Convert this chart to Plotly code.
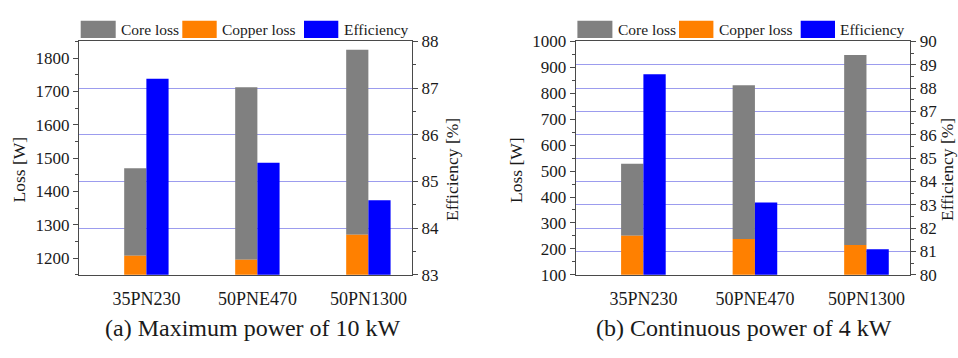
import plotly.graph_objects as go

# ---------------- data ----------------
materials = ["35PN230", "50PNE470", "50PN1300"]

# (a) Maximum power of 10 kW
copper_a = [1207, 1195, 1270]
core_a = [263, 518, 555]
eff_a = [87.2, 85.4, 84.6]

# (b) Continuous power of 4 kW
copper_b = [251, 238, 215]
core_b = [277, 593, 733]
eff_b = [88.6, 83.1, 81.1]

legend_names = ["Core loss", "Copper loss", "Efficiency"]
captions = ["(a) Maximum power of 10 kW", "(b) Continuous power of 4 kW"]

# ---------------- styles ----------------
W, H = 958, 358
FONT = "Liberation Serif"
C_CORE = "#808080"
C_CU = "#ff8000"
C_EFF = "#0000ff"
AXC = "#4a4a4a"
GRIDC = "#9c9cee"


def px(x):
    return x / W


def py(y):
    return 1 - y / H


fig = go.Figure()

panels = [
    dict(cu=copper_a, core=core_a, eff=eff_a, xa="x", ya="y", ya2="y2"),
    dict(cu=copper_b, core=core_b, eff=eff_b, xa="x2", ya="y3", ya2="y4"),
]

for p in panels:
    fig.add_trace(go.Bar(x=materials, y=p["core"], base=p["cu"], name=legend_names[0],
                         marker=dict(color=C_CORE, line=dict(width=0)),
                         offset=-0.2, width=0.2, xaxis=p["xa"], yaxis=p["ya"], showlegend=False))
    fig.add_trace(go.Bar(x=materials, y=p["cu"], name=legend_names[1],
                         marker=dict(color=C_CU, line=dict(width=0)),
                         offset=-0.2, width=0.2, xaxis=p["xa"], yaxis=p["ya"], showlegend=False))
    fig.add_trace(go.Bar(x=materials, y=p["eff"], name=legend_names[2],
                         marker=dict(color=C_EFF, line=dict(width=0)),
                         offset=0.0, width=0.2, xaxis=p["xa"], yaxis=p["ya2"], showlegend=False))

ydom = [py(280.7), py(34.3)]
xdom1 = [px(79), px(412)]
xdom2 = [px(575.7), px(910.3)]

tickfont = dict(family=FONT, size=17, color="#1a1a1a")
xfont = dict(family=FONT, size=18, color="#1a1a1a")


def xaxis_cfg(dom, anchor):
    return dict(domain=dom, anchor=anchor, type="category", range=[-0.607, 2.393],
                showline=True, linecolor=AXC, linewidth=1.3, mirror=True,
                ticks="outside", ticklen=7, tickcolor="rgba(0,0,0,0)",
                tickfont=xfont, showgrid=False, zeroline=False)


def yleft_cfg(dom_anchor, rng, dtick, minor):
    return dict(domain=ydom, anchor=dom_anchor, range=rng, dtick=dtick, tick0=0,
                showline=True, linecolor=AXC, linewidth=1.3,
                ticks="outside", ticklen=5, tickwidth=1.2, tickcolor=AXC,
                minor=dict(dtick=minor, ticklen=3, tickcolor=AXC, tickwidth=1, ticks="outside"),
                tickfont=tickfont, showgrid=False, zeroline=False)


def yright_cfg(over, anchor, rng, dtick, minor):
    return dict(overlaying=over, side="right", anchor=anchor, range=rng, dtick=dtick, tick0=0,
                showline=True, linecolor=AXC, linewidth=1.3,
                ticks="outside", ticklen=5, tickwidth=1.2, tickcolor=AXC,
                minor=dict(dtick=minor, ticklen=3, tickcolor=AXC, tickwidth=1, ticks="outside"),
                tickfont=tickfont, showgrid=True, gridcolor=GRIDC, gridwidth=1.2,
                zeroline=False)


fig.update_layout(
    width=W, height=H,
    margin=dict(l=0, r=0, t=0, b=0),
    paper_bgcolor="white", plot_bgcolor="white",
    barmode="overlay",
    showlegend=False,
    font=dict(family=FONT, color="#1a1a1a"),
    xaxis=xaxis_cfg(xdom1, "y"),
    xaxis2=xaxis_cfg(xdom2, "y3"),
    yaxis=yleft_cfg("x", [1150, 1850], 100, 50),
    yaxis2=yright_cfg("y", "x", [83, 88], 1, 0.5),
    yaxis3=yleft_cfg("x2", [100, 1000], 100, 50),
    yaxis4=yright_cfg("y3", "x2", [80, 90], 1, 0.5),
)

shapes = []
annotations = []

# custom legends (one per panel)
for left in (79, 575.7):
    items = [(1.7, 36.7, 40.0, C_CORE, legend_names[0]),
             (103.3, 137.7, 141.0, C_CU, legend_names[1]),
             (225.0, 259.3, 262.7, C_EFF, legend_names[2])]
    for x0, x1, xt, col, name in items:
        shapes.append(dict(type="rect", xref="paper", yref="paper",
                           x0=px(left + x0), x1=px(left + x1), y0=py(30.5), y1=py(12.5),
                           fillcolor=col, line=dict(width=0)))
        annotations.append(dict(x=px(left + xt), y=py(21.5), xref="paper", yref="paper",
                                text=name, showarrow=False, xanchor="left", yanchor="middle",
                                font=dict(family=FONT, size=15.5, color="#1a1a1a")))

# axis titles
for xc, txt in [(18.5, "Loss [W]"), (452, "Efficiency [%]"),
                (516, "Loss [W]"), (947, "Efficiency [%]")]:
    annotations.append(dict(x=px(xc), y=py(170), xref="paper", yref="paper", text=txt,
                            textangle=-90, showarrow=False, xanchor="center", yanchor="middle",
                            font=dict(family=FONT, size=17.5, color="#1a1a1a")))

# captions
for xc, txt in [(253, captions[0]), (744, captions[1])]:
    annotations.append(dict(x=px(xc), y=py(337), xref="paper", yref="paper", text=txt,
                            showarrow=False, xanchor="center", yanchor="middle",
                            font=dict(family=FONT, size=24, color="#1a1a1a")))

fig.update_layout(shapes=shapes, annotations=annotations)

fig.write_html("out.html",
               config={"displayModeBar": False},
               post_script="document.body.style.margin='0';document.body.style.overflow='hidden';")
